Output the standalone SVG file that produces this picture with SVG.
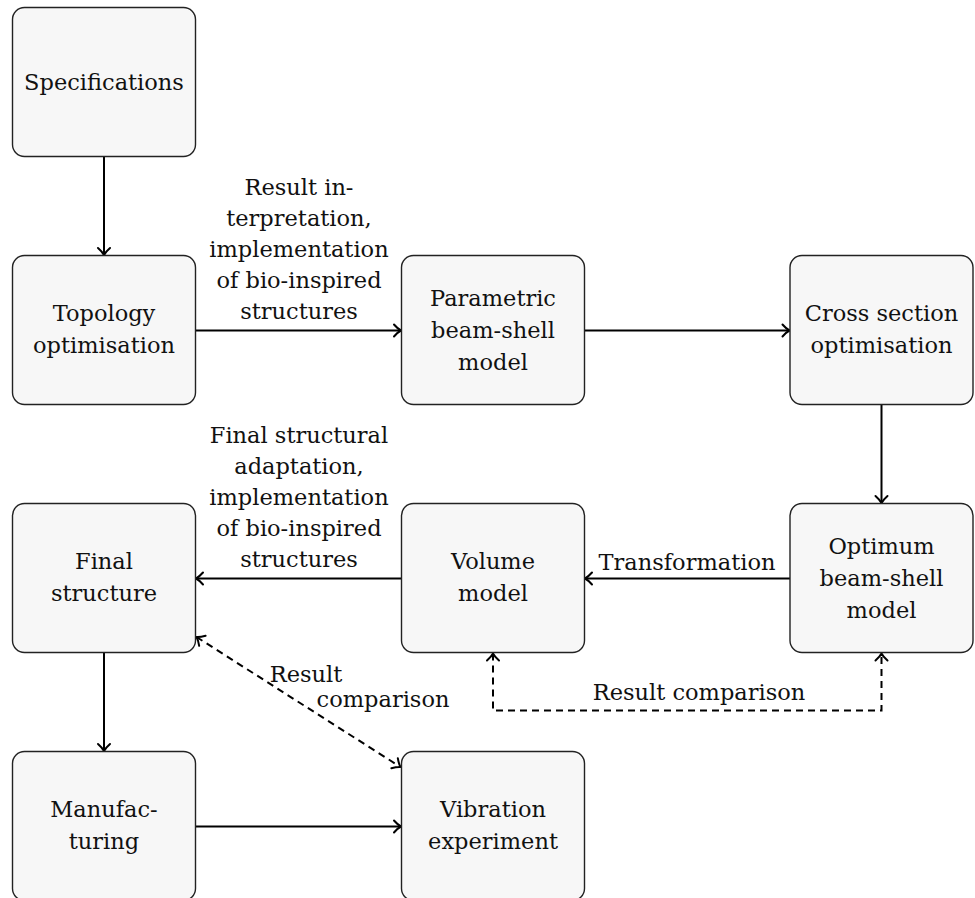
<svg xmlns="http://www.w3.org/2000/svg" width="975" height="898" viewBox="0 0 975 898">
<style>
.box{fill:#f7f7f7;stroke:#222;stroke-width:1.4}
text{font-family:"DejaVu Serif","Liberation Serif",serif;font-size:22.5px;fill:#111;text-anchor:middle}
.c{fill:none;stroke:#000;stroke-width:2}
.d{stroke-dasharray:7 5}
</style>
<defs>
<marker id="ah" viewBox="-10 -8 12 16" markerWidth="12" markerHeight="16" refX="0" refY="0" orient="auto-start-reverse" markerUnits="userSpaceOnUse">
<path d="M-7,-6 Q-3,-1.5 0,0 Q-3,1.5 -7,6" fill="none" stroke="#000" stroke-width="2" stroke-linecap="round" stroke-linejoin="round"/>
</marker>
</defs>
<rect width="975" height="898" fill="#fff"/>
<g id="connectors">
<path class="c" d="M104,156.5 V255" marker-end="url(#ah)"/>
<path class="c" d="M195.5,330.5 H401" marker-end="url(#ah)"/>
<path class="c" d="M584.5,330.5 H789.5" marker-end="url(#ah)"/>
<path class="c" d="M881.5,404.5 V503" marker-end="url(#ah)"/>
<path class="c" d="M790,578.5 H585" marker-end="url(#ah)"/>
<path class="c" d="M401.5,578.5 H196" marker-end="url(#ah)"/>
<path class="c" d="M104,652.5 V751" marker-end="url(#ah)"/>
<path class="c" d="M195.5,826.5 H401" marker-end="url(#ah)"/>
<path class="c d" d="M493,653.5 V710.5 H881.5 V653.5" marker-start="url(#ah)" marker-end="url(#ah)"/>
<path class="c d" d="M196.5,637 L400.5,767" marker-start="url(#ah)" marker-end="url(#ah)"/>
<text x="299" y="195">Result in-</text>
<text x="299" y="226">terpretation,</text>
<text x="299" y="257">implementation</text>
<text x="299" y="288">of bio-inspired</text>
<text x="299" y="319">structures</text>
<text x="299" y="443">Final structural</text>
<text x="299" y="474">adaptation,</text>
<text x="299" y="505">implementation</text>
<text x="299" y="536">of bio-inspired</text>
<text x="299" y="567">structures</text>
<text x="687" y="570">Transformation</text>
<text x="699" y="700">Result comparison</text>
<text x="306" y="682">Result</text>
<text x="383" y="707">comparison</text>
</g>
<g id="specifications"><rect class="box" x="12.5" y="7.5" width="183" height="149" rx="12"/><text x="104" y="90">Specifications</text></g>
<g id="topology"><rect class="box" x="12.5" y="255.5" width="183" height="149" rx="12"/><text x="104" y="321">Topology</text><text x="104" y="353">optimisation</text></g>
<g id="parametric"><rect class="box" x="401.5" y="255.5" width="183" height="149" rx="12"/><text x="493" y="306">Parametric</text><text x="493" y="338">beam-shell</text><text x="493" y="370">model</text></g>
<g id="cross-section"><rect class="box" x="790" y="255.5" width="183" height="149" rx="12"/><text x="881.5" y="321">Cross section</text><text x="881.5" y="353">optimisation</text></g>
<g id="final-structure"><rect class="box" x="12.5" y="503.5" width="183" height="149" rx="12"/><text x="104" y="569">Final</text><text x="104" y="601">structure</text></g>
<g id="volume-model"><rect class="box" x="401.5" y="503.5" width="183" height="149" rx="12"/><text x="493" y="569">Volume</text><text x="493" y="601">model</text></g>
<g id="optimum"><rect class="box" x="790" y="503.5" width="183" height="149" rx="12"/><text x="881.5" y="554">Optimum</text><text x="881.5" y="586">beam-shell</text><text x="881.5" y="618">model</text></g>
<g id="manufacturing"><rect class="box" x="12.5" y="751.5" width="183" height="149" rx="12"/><text x="104" y="817">Manufac-</text><text x="104" y="849">turing</text></g>
<g id="vibration"><rect class="box" x="401.5" y="751.5" width="183" height="149" rx="12"/><text x="493" y="817">Vibration</text><text x="493" y="849">experiment</text></g>
</svg>
